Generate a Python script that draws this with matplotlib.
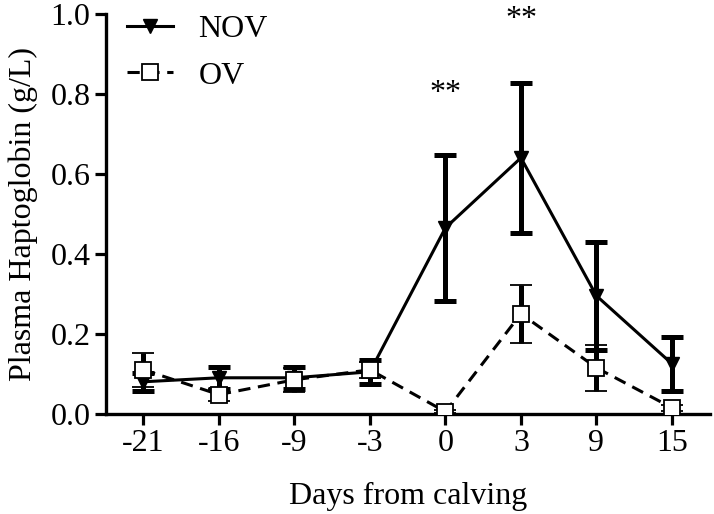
import numpy as np
import matplotlib.pyplot as plt
from matplotlib.lines import Line2D

plt.rcParams['font.family'] = ['Liberation Serif', 'DejaVu Serif']

days = ['-21', '-16', '-9', '-3', '0', '3', '9', '15']
nov = [0.080, 0.090, 0.090, 0.105, 0.465, 0.640, 0.295, 0.125]
nov_err = [0.023, 0.027, 0.027, 0.030, 0.183, 0.187, 0.135, 0.068]
ov = [0.110, 0.048, 0.085, 0.110, 0.005, 0.250, 0.115, 0.015]
ov_err = [0.043, 0.015, 0.030, 0.020, 0.004, 0.072, 0.058, 0.008]
stars_at = ['0', '3']
stars_y = [0.80, 0.985]

x = np.arange(len(days))
dash = (0, (4, 2.5))

fig = plt.figure(figsize=(7.14, 5.14), dpi=100)
ax = fig.add_axes([0.148, 0.195, 0.846, 0.778])

ax.errorbar(x, nov, yerr=nov_err, color='black', lw=2.2, marker='v', ms=10,
            elinewidth=3.6, capsize=8, capthick=3.6, zorder=3)
ax.errorbar(x, ov, yerr=ov_err, color='black', lw=2.2, ls=dash,
            marker='s', ms=11, mfc='white', mec='black', mew=1.3,
            elinewidth=3.6, capsize=8, capthick=3.6, zorder=4)

for d, yv in zip(stars_at, stars_y):
    ax.text(days.index(d), yv, '**', ha='center', va='center', fontsize=23)

ax.set_xlim(-0.5, len(days) - 0.5)
ax.set_ylim(0, 1.0)
ax.set_xticks(x)
ax.set_xticklabels(days)
ax.set_yticks(np.arange(0, 1.01, 0.2))
ax.set_yticklabels(['%.1f' % v for v in np.arange(0, 1.01, 0.2)])
ax.tick_params(labelsize=23, width=2.3, length=8, direction='out', pad=3)
for s in ['top', 'right']:
    ax.spines[s].set_visible(False)
for s in ['left', 'bottom']:
    ax.spines[s].set_linewidth(2.4)

ax.set_xlabel('Days from calving', fontsize=23, labelpad=17)
ax.set_ylabel('Plasma Haptoglobin (g/L)', fontsize=23, labelpad=9)

handles = [Line2D([], [], color='black', lw=2.2, marker='v', ms=10),
           Line2D([], [], color='black', lw=2.2, ls=dash, marker='s', ms=11,
                  mfc='white', mec='black', mew=1.3)]
ax.legend(handles, ['NOV', 'OV'], loc='upper left', bbox_to_anchor=(-0.013, 1.07),
          frameon=False, fontsize=23, handlelength=1.45, labelspacing=0.54,
          handletextpad=0.8)

fig.savefig('out.png', dpi=100)
